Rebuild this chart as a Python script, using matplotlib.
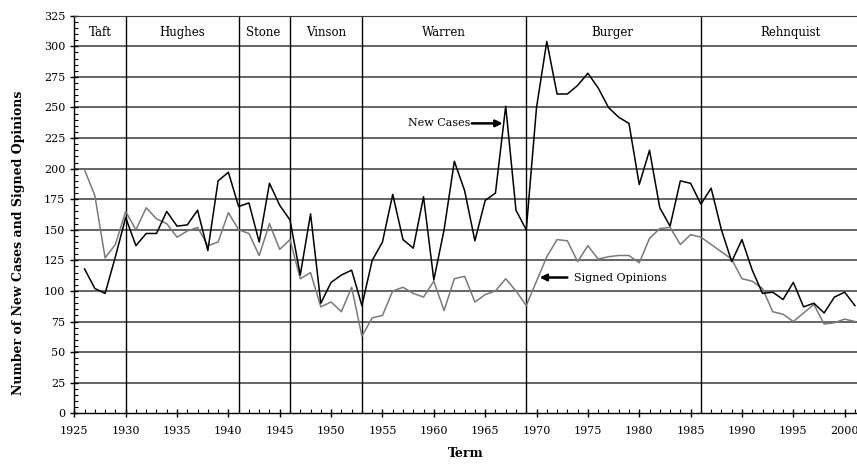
import matplotlib
matplotlib.use("Agg")
import matplotlib.pyplot as plt
from matplotlib.ticker import MultipleLocator

plt.rcParams['font.family'] = ['DejaVu Serif']

years = list(range(1926, 2002))
new_cases = [118, 102, 98, 128, 160, 137, 147, 147, 165, 153,
             154, 166, 133, 190, 197, 169, 172, 140, 188, 170,
             158, 113, 163, 90, 107, 113, 117, 88, 125, 140,
             179, 142, 135, 177, 109, 150, 206, 182, 141, 174,
             180, 251, 166, 150, 250, 304, 261, 261, 268, 278,
             266, 250, 242, 237, 187, 215, 168, 153, 190, 188,
             171, 184, 150, 124, 142, 117, 98, 99, 93, 107,
             87, 90, 82, 95, 99, 88]
signed_opinions = [199, 178, 127, 138, 165, 150, 168, 159, 155, 144,
                   149, 152, 137, 140, 164, 150, 147, 129, 155, 134,
                   142, 110, 115, 87, 91, 83, 103, 63, 78, 80,
                   100, 103, 98, 95, 108, 84, 110, 112, 91, 97,
                   100, 110, 100, 88, 108, 128, 142, 141, 124, 137,
                   126, 128, 129, 129, 123, 143, 151, 152, 138, 146,
                   144, 138, 132, 126, 110, 108, 102, 83, 81, 75,
                   82, 89, 73, 74, 77, 75]

court_changes = [1930, 1941, 1946, 1953, 1969, 1986]
chief_names = ["Taft", "Hughes", "Stone", "Vinson", "Warren", "Burger", "Rehnquist"]
name_positions = [1927.5, 1935.5, 1943.4, 1949.5, 1961.0, 1977.4, 1994.7]

fig = plt.figure(figsize=(8.57, 4.65), dpi=100)
ax = fig.add_axes([0.0867, 0.1112, 0.9133, 0.855])

ax.set_xlim(1925, 2001.2)
ax.set_ylim(0, 325)

for v in range(25, 326, 25):
    ax.axhline(v, color='#3a3a3a', lw=1.1, zorder=1)
for c in court_changes:
    ax.axvline(c, color='black', lw=1.0, zorder=1)

ax.plot(years, signed_opinions, color='#7a7a7a', lw=1.1, zorder=3)
ax.plot(years, new_cases, color='black', lw=1.1, zorder=4)

for name, xpos in zip(chief_names, name_positions):
    ax.text(xpos, 311, name, ha='center', va='center', fontsize=8.5)

ax.annotate("", xy=(1966.7, 237), xytext=(1963.7, 237),
            arrowprops=dict(arrowstyle='-|>', color='black', lw=1.8,
                            mutation_scale=10, shrinkA=0, shrinkB=0))
ax.text(1963.6, 237, "New Cases", ha='right', va='center', fontsize=8)

ax.annotate("", xy=(1970.3, 111), xytext=(1973.0, 111),
            arrowprops=dict(arrowstyle='-|>', color='black', lw=1.8,
                            mutation_scale=10, shrinkA=0, shrinkB=0))
ax.text(1973.6, 111, "Signed Opinions", ha='left', va='center', fontsize=8)

ax.xaxis.set_major_locator(MultipleLocator(5))
ax.xaxis.set_minor_locator(MultipleLocator(1))
ax.yaxis.set_major_locator(MultipleLocator(25))
ax.yaxis.set_minor_locator(MultipleLocator(5))
ax.tick_params(axis='both', which='major', direction='inout', length=6, width=1.0, labelsize=8)
ax.tick_params(axis='both', which='minor', direction='in', length=3, width=0.8)
ax.tick_params(axis='x', which='major', pad=6)

ax.spines['right'].set_visible(False)
ax.spines['top'].set_color('#3a3a3a')
ax.spines['left'].set_linewidth(1.0)
ax.spines['bottom'].set_linewidth(1.0)

ax.set_xlabel("Term", fontsize=9, fontweight='bold', labelpad=8)
ax.set_ylabel("Number of New Cases and Signed Opinions", fontsize=9, fontweight='bold')
ax.yaxis.set_label_coords(-0.0635, 0.43)

fig.savefig("out.png", dpi=100)
